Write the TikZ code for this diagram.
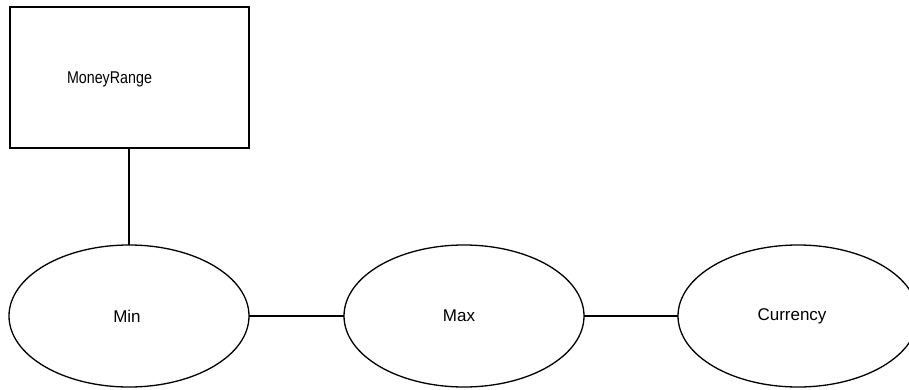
\documentclass[tikz,border=0pt]{standalone}
\usepackage{fontspec}
\usepackage{graphicx}
\setmainfont{Liberation Sans}
\usetikzlibrary{shapes.geometric}
\tikzset{
  every node/.style={font=\fontsize{17}{20}\selectfont},
  entity/.style={draw, line width=1.3pt, rectangle, minimum width=239pt, minimum height=141pt, inner sep=0pt, outer sep=0pt},
  attr/.style={draw, line width=1.3pt, ellipse, minimum width=240pt, minimum height=142pt, inner sep=0pt, outer sep=0pt},
  link/.style={line width=1.3pt}
}
\begin{document}
\begin{tikzpicture}[x=1pt,y=1pt]
\clip (0,0) rectangle (909,389);
\fill[white] (0,0) rectangle (909,389);
\node[entity, label={[xshift=-20pt,yshift=-2pt]center:\scalebox{0.84}[1]{MoneyRange}}] (money) at (129.5,311.5) {};
\node[attr] (min) at (129,73) {\hspace*{-4pt}Min};
\node[attr] (max) at (464,73) {\hspace*{-10pt}Max};
\node[attr] (cur) at (798,73) {\hspace*{-12pt}Currency};
\draw[link] (money.south -| min.north) -- (min.north);
\draw[link] (min.east) -- (max.west);
\draw[link] (max.east) -- (cur.west);
\end{tikzpicture}
\end{document}
